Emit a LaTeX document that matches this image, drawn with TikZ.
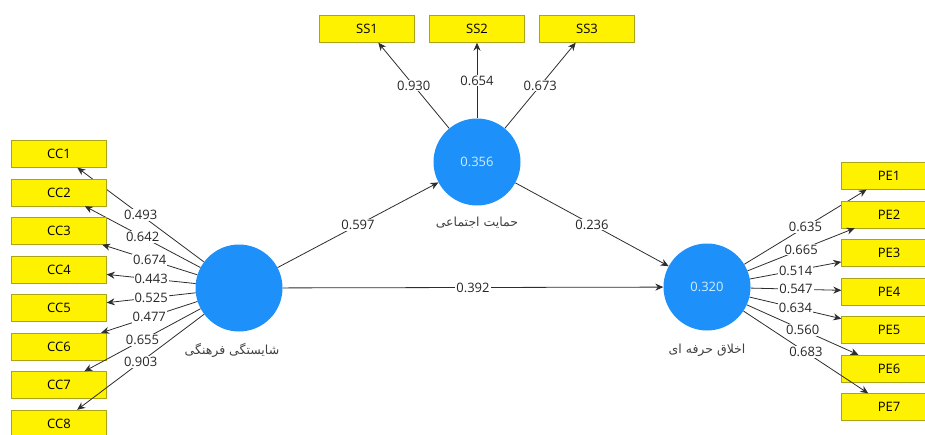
\documentclass[tikz,border=0pt]{standalone}
\usepackage{fontspec}
\setmainfont{Open Sans}
\newfontfamily\farsifont[Script=Arabic]{DejaVu Sans}
\TeXXeTstate=1
\usetikzlibrary{arrows.meta}
\definecolor{lvblue}{RGB}{30,144,250}
\definecolor{lvtext}{RGB}{205,238,255}
\definecolor{itemborder}{RGB}{170,165,20}
\definecolor{edgegray}{RGB}{45,45,45}
\tikzset{
	item/.style={draw=itemborder, fill=yellow, minimum width=95pt, minimum height=27pt, inner sep=0pt},
	latent/.style={circle, fill=lvblue, text=lvtext, minimum size=87pt, inner sep=0pt},
	load/.style={fill=white, inner sep=1pt, text=black!85},
	edge/.style={->, draw=edgegray, line width=0.8pt},
	lvname/.style={font=\farsifont\fontsize{12.5}{14}\selectfont, text=black!75},
}
\begin{document}
\begin{tikzpicture}[x=1pt, y=-1pt, font=\fontsize{13}{15}\selectfont,
		>={Stealth[length=8pt,width=7pt]}]
	\useasboundingbox (0,0) rectangle (925,434);
	\node[latent] (cc) at (239,288)	{};
	\node[latent] (ss) at (477,162)	{0.356};
	\node[latent] (pe) at (707,287)	{0.320};
	\node[lvname] (ccname) at (232,350)	{\beginR شایستگی فرهنگی\endR};
	\node[lvname] (ssname) at (477,223)	{\beginR حمایت اجتماعی\endR};
	\node[lvname] (pename) at (707,350)	{\beginR اخلاق حرفه ای\endR};
	%
	\def\cclist {1/154/0.493, 2/192.5/0.642, 3/231/0.674, 4/269.5/0.443, 5/308/0.525, 6/346.5/0.477, 7/385/0.655, 8/423.5/0.903}  % indicators left
	\foreach \i\y\w in \cclist
	{	\node[item] (cc\i) at (59,\y) {CC\i};
		\draw[edge] (cc) -- (cc\i) node [midway, load] {\w};
	}
	\def\pelist {1/176/0.635, 2/214.5/0.665, 3/253/0.514, 4/291.5/0.547, 5/330/0.634, 6/368.5/0.560, 7/407/0.683}  % indicators right
	\foreach \i\y\w in \pelist
	{	\node[item] (pe\i) at (889,\y) {PE\i};
		\draw[edge] (pe) -- (pe\i) node [midway, load] {\w};
	}
	\def\sslist {1/367/0.930, 2/477/0.654, 3/587/0.673}  % indicators top
	\foreach \i\x\w in \sslist
	{	\node[item] (ss\i) at (\x,29) {SS\i};
		\draw[edge] (ss) -- (ss\i) node [midway, load] {\w};
	}
	%
	\draw[edge] (cc) -- (ss) node [midway, load] {0.597};
	\draw[edge] (ss) -- (pe) node [midway, load] {0.236};
	\draw[edge] (cc) -- (pe) node [midway, load] {0.392};
\end{tikzpicture}
\end{document}
